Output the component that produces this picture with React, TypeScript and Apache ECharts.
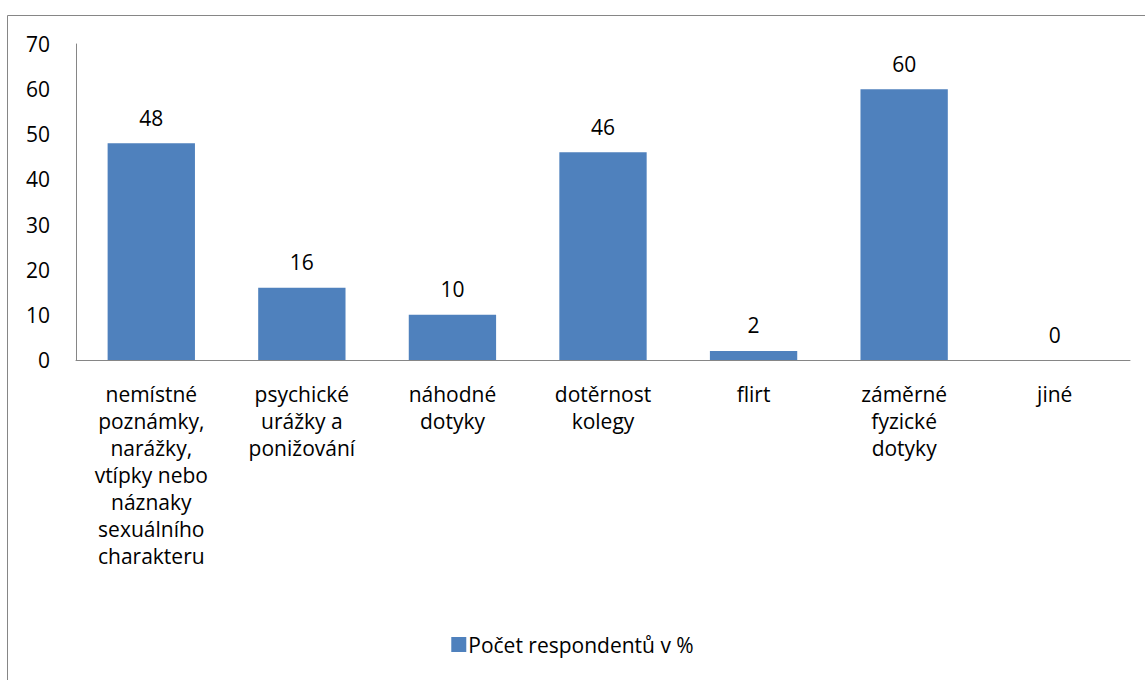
import React, { useEffect, useRef } from "react";
import * as echarts from "echarts";

const categories = [
  "nemístné\npoznámky,\nnarážky,\nvtípky nebo\nnáznaky\nsexuálního\ncharakteru",
  "psychické\nurážky a\nponižování",
  "náhodné\ndotyky",
  "dotěrnost\nkolegy",
  "flirt",
  "záměrné\nfyzické\ndotyky",
  "jiné",
];
const values = [48, 16, 10, 46, 2, 60, 0];
const seriesName = "Počet respondentů v %";

const FONT = "'Open Sans', Lato, sans-serif";
const FS = 21;

export default function App() {
  const ref = useRef<HTMLDivElement>(null);

  useEffect(() => {
    if (!ref.current) return;
    const chart = echarts.init(ref.current, undefined, { renderer: "svg" });
    chart.setOption({
      animation: false,
      backgroundColor: "#ffffff",
      textStyle: { fontFamily: FONT },
      graphic: [
        {
          type: "rect",
          shape: { x: 7.5, y: 15.5, width: 1200, height: 700 },
          style: { fill: "none", stroke: "#868686", lineWidth: 1 },
          silent: true,
        },
      ],
      legend: {
        bottom: 20,
        left: "center",
        itemWidth: 15,
        itemHeight: 15,
        itemGap: 10,
        icon: "rect",
        textStyle: { fontSize: FS, color: "#000", fontFamily: FONT, padding: [0, 0, 0, -3] },
        data: [seriesName],
      },
      grid: { left: 76, right: 15, top: 44, bottom: 320, containLabel: false },
      xAxis: {
        type: "category",
        data: categories,
        axisLine: { lineStyle: { color: "#868686", width: 1 } },
        axisTick: { show: false },
        axisLabel: {
          interval: 0,
          color: "#000",
          fontSize: FS,
          lineHeight: 27,
          margin: 20,
          fontFamily: FONT,
        },
      },
      yAxis: {
        type: "value",
        min: 0,
        max: 70,
        interval: 10,
        axisLine: { show: true, lineStyle: { color: "#868686", width: 1 } },
        axisTick: { show: false },
        splitLine: { show: false },
        axisLabel: { color: "#000", fontSize: FS, margin: 26, fontFamily: FONT },
      },
      series: [
        {
          name: seriesName,
          type: "bar",
          data: values,
          barCategoryGap: "42%",
          itemStyle: { color: "#4F81BD" },
          label: {
            show: true,
            position: "top",
            distance: 15,
            color: "#000",
            fontSize: FS,
            fontFamily: FONT,
          },
        },
      ],
    });
    return () => chart.dispose();
  }, []);

  return (
    <div
      ref={ref}
      style={{ position: "fixed", left: 0, top: 0, width: 1145, height: 680 }}
    />
  );
}
